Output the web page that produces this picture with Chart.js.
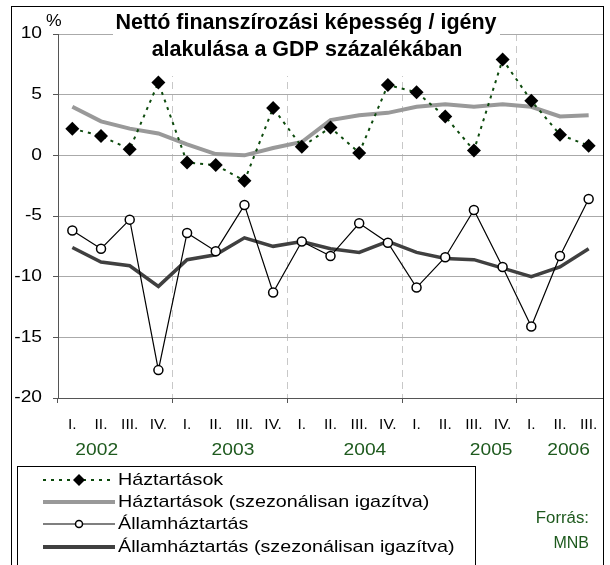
<!DOCTYPE html>
<html>
<head>
<meta charset="utf-8">
<script src="https://cdn.jsdelivr.net/npm/chart.js@4"></script>
<style>
  body { margin: 0; background: #fff; }
  canvas { display: block; }
</style>
</head>
<body>
<canvas id="chart" width="610" height="565"></canvas>
<script>
// data (% of GDP)
const quarters = ["I.", "II.", "III.", "IV.", "I.", "II.", "III.", "IV.", "I.", "II.", "III.", "IV.",
  "I.", "II.", "III.", "IV.", "I.", "II.", "III."];
const years = ["2002", "2003", "2004", "2005", "2006"];
const haztartasok = [2.2, 1.6, 0.5, 6.0, -0.6, -0.8, -2.1, 3.9, 0.7, 2.3, 0.2, 5.8, 5.2, 3.2, 0.4, 7.9, 4.5, 1.7, 0.8];
const haztartasokSA = [4.0, 2.8, 2.2, 1.8, 0.9, 0.1, 0.0, 0.6, 1.1, 2.9, 3.3, 3.5, 4.0, 4.2, 4.0, 4.2, 4.0, 3.2, 3.3];
const allam = [-6.2, -7.7, -5.3, -17.7, -6.4, -7.9, -4.1, -11.3, -7.1, -8.3, -5.6, -7.2, -10.9, -8.4, -4.5, -9.2, -14.1, -8.3, -3.6];
const allamSA = [-7.6, -8.8, -9.1, -10.8, -8.6, -8.2, -6.8, -7.5, -7.1, -7.7, -8.0, -7.1, -8.0, -8.5, -8.6, -9.3, -10.0, -9.2, -7.7];
const seriesNames = ["Háztartások", "Háztartások (szezonálisan igazítva)", "Államháztartás", "Államháztartás (szezonálisan igazítva)"];

// where the year captions sit (category index, fractional)
const yearAt = [0.85, 5.6, 10.2, 14.6, 17.3];

const FONT = "'Liberation Sans', Arial, sans-serif";
const GREEN = "#1e5a1e";
const DOTS = "#0d4a0d";

// the original's text is a bit wide, so squeeze it out sideways
function wideText(c, txt, x, y, align, sx) {
  c.save();
  c.translate(x, y);
  c.scale(sx, 1);
  c.textAlign = align;
  c.fillText(txt, 0, 0);
  c.restore();
}

const decor = {
  id: "decor",
  beforeDatasetsDraw(chart) {
    const c = chart.ctx;
    c.save();
    // title box hides the top gridline
    c.fillStyle = "#fff";
    c.fillRect(113, 8, 387, 68);
    c.fillStyle = "#000";
    c.font = "bold 21.5px " + FONT;
    c.textAlign = "center";
    c.textBaseline = "middle";
    c.fillText("Nettó finanszírozási képesség / igény", 306, 23);
    c.fillText("alakulása a GDP százalékában", 307, 50);
    c.restore();
  },
  afterDraw(chart) {
    const c = chart.ctx;
    const x = chart.scales.x;
    const y = chart.scales.y;
    c.save();
    c.textBaseline = "middle";
    c.fillStyle = "#000";
    c.font = "16px " + FONT;

    // y tick labels
    y.ticks.forEach(t => {
      wideText(c, String(t.value), 42, y.getPixelForValue(t.value), "right", 1.2);
    });
    wideText(c, "%", 46, 22, "left", 1.1);

    // year captions
    c.fillStyle = GREEN;
    const step = x.getPixelForValue(1) - x.getPixelForValue(0);
    years.forEach((yr, i) => {
      wideText(c, yr, x.getPixelForValue(0) + yearAt[i] * step, 451, "center", 1.2);
    });

    // source
    wideText(c, "Forrás:", 589, 519, "right", 1.05);
    wideText(c, "MNB", 589, 544, "right", 1.0);

    // outer frame
    c.strokeStyle = "#000";
    c.lineWidth = 1;
    c.strokeRect(11.5, 6.5, 592, 600);

    // legend
    c.strokeRect(17.5, 466.5, 458, 120);
    const rows = [480, 502, 524, 547];
    const x0 = 43, x1 = 115, xm = 79;
    c.fillStyle = "#000";
    c.font = "17px " + FONT;
    rows.forEach((ry, i) => {
      wideText(c, seriesNames[i], 118, ry, "left", 1.16);
    });
    // Háztartások
    c.strokeStyle = DOTS; c.lineWidth = 2; c.setLineDash([3, 5]);
    c.beginPath(); c.moveTo(x0, rows[0]); c.lineTo(x1, rows[0]); c.stroke();
    c.setLineDash([]);
    c.fillStyle = "#000";
    c.beginPath();
    c.moveTo(xm, rows[0] - 6); c.lineTo(xm + 6, rows[0]); c.lineTo(xm, rows[0] + 6); c.lineTo(xm - 6, rows[0]);
    c.closePath(); c.fill();
    // SA households
    c.strokeStyle = "#999"; c.lineWidth = 4;
    c.beginPath(); c.moveTo(x0, rows[1]); c.lineTo(x1, rows[1]); c.stroke();
    // Államháztartás
    c.strokeStyle = "#000"; c.lineWidth = 1.2;
    c.beginPath(); c.moveTo(x0, rows[2]); c.lineTo(x1, rows[2]); c.stroke();
    c.fillStyle = "#fff"; c.lineWidth = 1.5;
    c.beginPath(); c.arc(xm, rows[2], 3.5, 0, Math.PI * 2); c.fill(); c.stroke();
    // SA government
    c.strokeStyle = "#404040"; c.lineWidth = 4;
    c.beginPath(); c.moveTo(x0, rows[3]); c.lineTo(x1, rows[3]); c.stroke();
    c.restore();
  }
};

new Chart(document.getElementById("chart"), {
  type: "line",
  data: {
    labels: quarters,
    datasets: [
      {
        label: seriesNames[0],
        data: haztartasok,
        borderColor: DOTS,
        borderWidth: 2,
        borderDash: [3, 5],
        pointStyle: "rectRot",
        pointRadius: 7,
        pointBackgroundColor: "#000",
        pointBorderColor: "#000",
        pointBorderWidth: 0,
        tension: 0,
        order: 1
      },
      {
        label: seriesNames[1],
        data: haztartasokSA,
        borderColor: "#999",
        borderWidth: 4,
        pointRadius: 0,
        tension: 0,
        order: 3
      },
      {
        label: seriesNames[2],
        data: allam,
        borderColor: "#000",
        borderWidth: 1.2,
        pointStyle: "circle",
        pointRadius: 4.5,
        pointBackgroundColor: "#fff",
        pointBorderColor: "#000",
        pointBorderWidth: 1.5,
        tension: 0,
        order: 0
      },
      {
        label: seriesNames[3],
        data: allamSA,
        borderColor: "#404040",
        borderWidth: 3.5,
        pointRadius: 0,
        tension: 0,
        order: 2
      }
    ]
  },
  options: {
    responsive: false,
    animation: false,
    layout: { padding: { left: 0, right: 6, top: 34, bottom: 97 } },
    plugins: { legend: { display: false }, tooltip: { enabled: false } },
    scales: {
      x: {
        offset: true,
        afterFit: s => { s.height = 70; },
        grid: {
          offset: true,
          tickLength: 5,
          color: ctx => (ctx.index > 0 && ctx.index < 19 && ctx.index % 4 === 0) ? "#c8c8c8" : "rgba(0,0,0,0)",
          tickColor: ctx => (ctx.index < 19 && ctx.index % 4 === 0) ? "#555" : "rgba(0,0,0,0)"
        },
        border: { color: "#555", width: 1, dash: [7, 5] },
        ticks: {
          autoSkip: false,
          maxRotation: 0,
          padding: 12,
          color: "#000",
          font: { family: FONT, size: 15.5 }
        }
      },
      y: {
        min: -20,
        max: 10,
        afterFit: s => { s.width = 58; },
        grid: { color: "#aaa", tickLength: 5, tickColor: "#555" },
        border: { color: "#555", width: 1 },
        ticks: { stepSize: 5, display: false }
      }
    }
  },
  plugins: [decor]
});
</script>
</body>
</html>
